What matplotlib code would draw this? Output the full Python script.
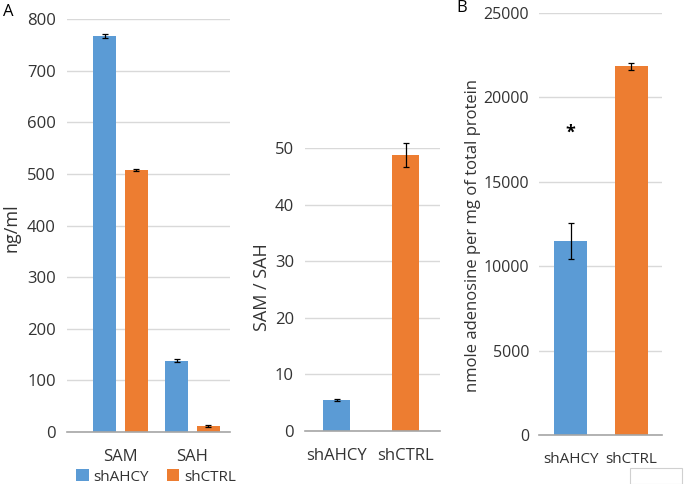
import matplotlib.pyplot as plt
from matplotlib.patches import Rectangle

# data
groups = ["shAHCY", "shCTRL"]
metabolites = ["SAM", "SAH"]
conc_ahcy = [767, 138]
conc_ahcy_err = [3, 3]
conc_ctrl = [507, 11]
conc_ctrl_err = [2, 2]

ratio = [5.5, 48.8]
ratio_err = [0.2, 2.1]

adenosine = [11500, 21850]
adenosine_err = [1050, 200]
star_y = 17900

blue = "#5B9BD5"
orange = "#ED7D31"
grid_c = "#d9d9d9"
txt = "#333333"

plt.rcParams["font.family"] = ["Open Sans", "DejaVu Sans"]
W, H = 685, 484
fig = plt.figure(figsize=(W / 100, H / 100), dpi=100)


def axes_px(left, right, bottom, top):
    return fig.add_axes([left / W, 1 - bottom / H, (right - left) / W, (bottom - top) / H])


def style(ax, ticks, fs=12, xfs=12, ypad=8):
    for s in ["top", "right", "left"]:
        ax.spines[s].set_visible(False)
    ax.spines["bottom"].set_color("#a6a6a6")
    ax.spines["bottom"].set_linewidth(1.2)
    ax.set_yticks(ticks)
    ax.yaxis.grid(True, color=grid_c, linewidth=1)
    ax.set_axisbelow(True)
    ax.tick_params(axis="both", length=0, colors=txt)
    ax.tick_params(axis="y", labelsize=fs, pad=ypad)
    ax.tick_params(axis="x", labelsize=xfs, pad=12)


ek = dict(ecolor="black", elinewidth=0.9, capsize=2.5, capthick=0.9)

# panel A left: concentrations
ax1 = axes_px(67, 230, 432, 19)
x = [0, 1]
ax1.bar([i - 0.22 for i in x], conc_ahcy, 0.32, color=blue, yerr=conc_ahcy_err, error_kw=ek, label=groups[0])
ax1.bar([i + 0.22 for i in x], conc_ctrl, 0.32, color=orange, yerr=conc_ctrl_err, error_kw=ek, label=groups[1])
ax1.set_ylim(0, 800)
ax1.set_xlim(-0.743, 1.521)
style(ax1, range(0, 801, 100))
ax1.set_xticks(x)
ax1.set_xticklabels(metabolites)
ax1.legend(loc="center", bbox_to_anchor=(156 / W, 1 - 477 / H), bbox_transform=fig.transFigure,
           ncol=2, frameon=False, fontsize=11, handlelength=0.8, handleheight=0.8,
           handletextpad=0.3, columnspacing=1.2, labelcolor=txt)
fig.text(12 / W, 1 - 228 / H, "ng/ml", rotation=90, ha="center", va="center", fontsize=13, color=txt)

# panel A right: ratio
ax2 = axes_px(305, 440, 431, 148)
ax2.bar(x, ratio, 0.39, color=[blue, orange], yerr=ratio_err, error_kw=ek)
ax2.set_ylim(0, 50)
ax2.set_xlim(-0.457, 1.5)
style(ax2, range(0, 51, 10))
ax2.set_xticks(x)
ax2.set_xticklabels(groups)
for c in ax2.get_children():
    c.set_clip_on(False)
fig.text(262 / W, 1 - 287 / H, "SAM / SAH", rotation=90, ha="center", va="center", fontsize=13, color=txt)

# panel B: adenosine
ax3 = axes_px(539, 662, 435, 13)
ax3.bar(x, adenosine, 0.545, color=[blue, orange], yerr=adenosine_err, error_kw=ek)
ax3.set_ylim(0, 25000)
ax3.set_xlim(-0.52, 1.51)
style(ax3, range(0, 25001, 5000), fs=11.5, xfs=11, ypad=7)
ax3.set_xticks(x)
ax3.set_xticklabels(groups)
ax3.text(0, star_y, "*", ha="center", va="center", fontsize=13, fontweight="bold", color="black")
fig.text(473 / W, 1 - 235 / H, "nmole adenosine per mg of total protein", rotation=90,
         ha="center", va="center", fontsize=12, color=txt)

fig.text(8 / W, 1 - 12 / H, "A", ha="center", va="center", fontsize=12, color="black")
fig.text(462 / W, 1 - 8 / H, "B", ha="center", va="center", fontsize=12, color="black")

fig.patches.append(Rectangle((630 / W, 0), 52 / W, 16 / H, transform=fig.transFigure,
                             fill=False, edgecolor="#d0d0d0", linewidth=0.8))

fig.savefig("out.png", dpi=100)
